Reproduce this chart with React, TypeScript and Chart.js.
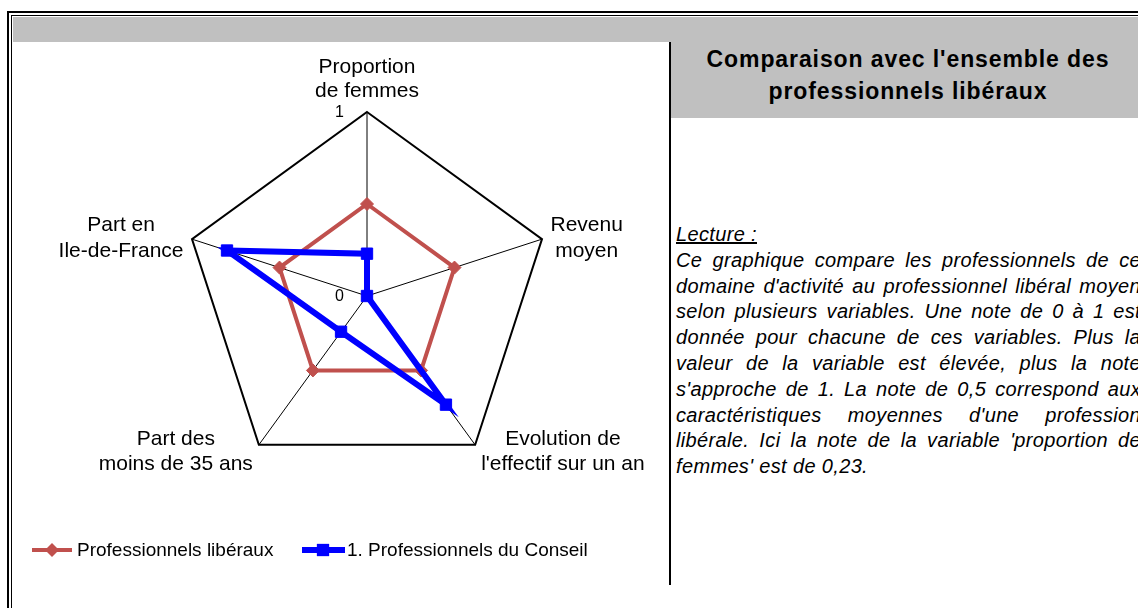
import React, { useEffect, useRef } from "react";
import { Chart, registerables } from "chart.js";

Chart.register(...registerables);

// ---------- data ----------
const categories: string[][] = [
  ["Proportion", "de femmes"],
  ["Revenu", "moyen"],
  ["Evolution de", "l'effectif sur un an"],
  ["Part des", "moins de 35 ans"],
  ["Part en", "Ile-de-France"],
];
const seriesNames = ["Professionnels libéraux", "1. Professionnels du Conseil"];
const liberauxValues = [0.5, 0.5, 0.5, 0.5, 0.5];
const conseilValues = [0.23, 0.0, 0.73, 0.24, 0.8];
const tickValues = [0, 1];
const tickLabels = ["0", "1"];
const titleLines = ["Comparaison avec l'ensemble des", "professionnels libéraux"];
const lectureTitle = "Lecture :";
const lectureLines = [
  "Ce graphique compare les professionnels de ce",
  "domaine d'activité au professionnel libéral moyen",
  "selon plusieurs variables. Une note de 0 à 1 est",
  "donnée pour chacune de ces variables. Plus la",
  "valeur de la variable est élevée, plus la note",
  "s'approche de 1. La note de 0,5 correspond aux",
  "caractéristiques moyennes d'une profession",
  "libérale. Ici la note de la variable 'proportion de",
];
const lectureLast = "femmes' est de 0,23.";

const FONT = "'Liberation Sans', Arial, Helvetica, sans-serif";
const RED = "#C0504D";
const BLUE = "#0000FF";

const overlayPlugin = {
  id: "overlay",
  afterDraw(chart: any) {
    const ctx: CanvasRenderingContext2D = chart.ctx;
    const scale = chart.scales.r;
    ctx.save();
    ctx.fillStyle = "#000";

    // tick labels
    ctx.font = `16px ${FONT}`;
    ctx.textAlign = "right";
    ctx.textBaseline = "middle";
    tickValues.forEach((v, k) => {
      const p = scale.getPointPositionForValue(0, v);
      ctx.fillText(tickLabels[k], p.x - 23, p.y + 1);
    });

    // axis labels
    ctx.font = `21px ${FONT}`;
    ctx.textAlign = "center";
    ctx.textBaseline = "alphabetic";
    const labels = chart.data.labels as string[][];
    labels.forEach((lines, i) => {
      const p = scale.getPointPosition(i, scale.drawingArea);
      const dx = p.x - scale.xCenter;
      const dy = p.y - scale.yCenter;
      const w = Math.max(...lines.map((l) => ctx.measureText(l).width));
      let cx: number;
      let y0: number;
      let lh: number;
      if (Math.abs(dx) < 1) {
        lh = 24;
        cx = p.x;
        y0 = p.y - 15 - lh * (lines.length - 1);
      } else {
        lh = 25.5;
        const side = dx > 0 ? 1 : -1;
        const upper = dy < 0;
        const gap = upper ? 8.5 : 6;
        cx = p.x + side * (gap + w / 2);
        y0 = upper ? p.y - 8 : p.y;
      }
      lines.forEach((l, k) => ctx.fillText(l, cx, y0 + k * lh));
    });

    // legend
    const ly = 508;
    const items = [
      { x0: 19, x1: 59, mx: 39, tx: 64 },
      { x0: 289, x1: 332, mx: 310, tx: 334 },
    ];
    chart.data.datasets.forEach((ds: any, k: number) => {
      const it = items[k];
      ctx.strokeStyle = ds.borderColor;
      ctx.lineWidth = ds.borderWidth;
      ctx.beginPath();
      ctx.moveTo(it.x0, ly);
      ctx.lineTo(it.x1, ly);
      ctx.stroke();
      ctx.fillStyle = ds.pointBackgroundColor;
      ctx.beginPath();
      if (ds.pointStyle === "rectRot") {
        const r = ds.pointRadius + 0.5;
        ctx.moveTo(it.mx - r, ly);
        ctx.lineTo(it.mx, ly - r);
        ctx.lineTo(it.mx + r, ly);
        ctx.lineTo(it.mx, ly + r);
        ctx.closePath();
      } else {
        const s = ds.pointRadius * Math.SQRT1_2 + 0.5;
        ctx.rect(it.mx - s, ly - s, 2 * s, 2 * s);
      }
      ctx.fill();
      ctx.fillStyle = "#000";
      ctx.font = `19px ${FONT}`;
      ctx.textAlign = "left";
      ctx.textBaseline = "middle";
      ctx.fillText(ds.label, it.tx, ly + 1);
    });
    ctx.restore();
  },
};

function RadarChart() {
  const ref = useRef<HTMLCanvasElement | null>(null);
  useEffect(() => {
    if (!ref.current) return;
    const chart = new Chart(ref.current, {
      type: "radar",
      data: {
        labels: categories as any,
        datasets: [
          {
            label: seriesNames[0],
            data: liberauxValues,
            borderColor: RED,
            backgroundColor: RED,
            pointBackgroundColor: RED,
            pointBorderColor: RED,
            borderWidth: 4,
            pointStyle: "rectRot",
            pointRadius: 6.5,
            pointBorderWidth: 1,
            fill: false,
            order: 2,
          } as any,
          {
            label: seriesNames[1],
            data: conseilValues,
            borderColor: BLUE,
            backgroundColor: BLUE,
            pointBackgroundColor: BLUE,
            pointBorderColor: BLUE,
            borderWidth: 6,
            pointStyle: "rect",
            pointRadius: 8,
            pointBorderWidth: 1,
            fill: false,
            order: 1,
          } as any,
        ],
      },
      options: {
        responsive: false,
        animation: false,
        events: [],
        layout: { padding: { left: 104, right: 52, top: 70, bottom: 120 } },
        elements: { line: { tension: 0 } },
        plugins: {
          legend: { display: false },
          tooltip: { enabled: false },
          title: { display: false },
        },
        scales: {
          r: {
            min: 0,
            max: 1,
            ticks: { display: false, stepSize: 1 },
            grid: { color: "#000", lineWidth: 2 },
            angleLines: { color: "#000", lineWidth: 1 },
            pointLabels: { display: false },
          },
        },
      } as any,
      plugins: [overlayPlugin],
    });
    return () => chart.destroy();
  }, []);
  return (
    <canvas
      ref={ref}
      width={656}
      height={558}
      style={{ width: 656, height: 558, display: "block" }}
    />
  );
}

export default function App() {
  const abs = (l: number, t: number, w: number, h: number, bg: string): React.CSSProperties => ({
    position: "absolute",
    left: l,
    top: t,
    width: w,
    height: h,
    background: bg,
  });
  return (
    <div
      style={{
        position: "absolute",
        left: 0,
        top: 0,
        width: 1138,
        height: 608,
        overflow: "hidden",
        background: "#fff",
        fontFamily: FONT,
      }}
    >
      {/* frame */}
      <div style={abs(7, 11, 1200, 2, "#000")} />
      <div style={abs(7, 11, 2, 700, "#000")} />
      <div style={abs(11, 15, 1200, 1, "#000")} />
      <div style={abs(11, 15, 1, 700, "#000")} />
      <div style={abs(13, 17, 1200, 25, "#C0C0C0")} />

      {/* chart */}
      <div style={{ position: "absolute", left: 13, top: 42, width: 656, height: 558 }}>
        <RadarChart />
      </div>

      {/* divider */}
      <div style={abs(669, 42, 2, 543, "#000")} />

      {/* title box */}
      <div
        style={{
          ...abs(671, 42, 474, 76, "#C0C0C0"),
          boxSizing: "border-box",
          paddingTop: 1,
          textAlign: "center",
          fontWeight: "bold",
          fontSize: 23,
          letterSpacing: 0.9,
          lineHeight: "32px",
          color: "#000",
        }}
      >
        {titleLines.map((t, i) => (
          <div key={i}>{t}</div>
        ))}
      </div>

      {/* lecture */}
      <div
        style={{
          position: "absolute",
          left: 676,
          top: 222,
          width: 465,
          fontStyle: "italic",
          fontSize: 20,
          letterSpacing: 0.35,
          lineHeight: "25.8px",
          color: "#000",
        }}
      >
        <div>
          <span style={{ textDecoration: "underline" }}>{lectureTitle}</span>
        </div>
        {lectureLines.map((t, i) => (
          <div key={i} style={{ textAlign: "justify", textAlignLast: "justify" }}>
            {t}
          </div>
        ))}
        <div>{lectureLast}</div>
      </div>
    </div>
  );
}
